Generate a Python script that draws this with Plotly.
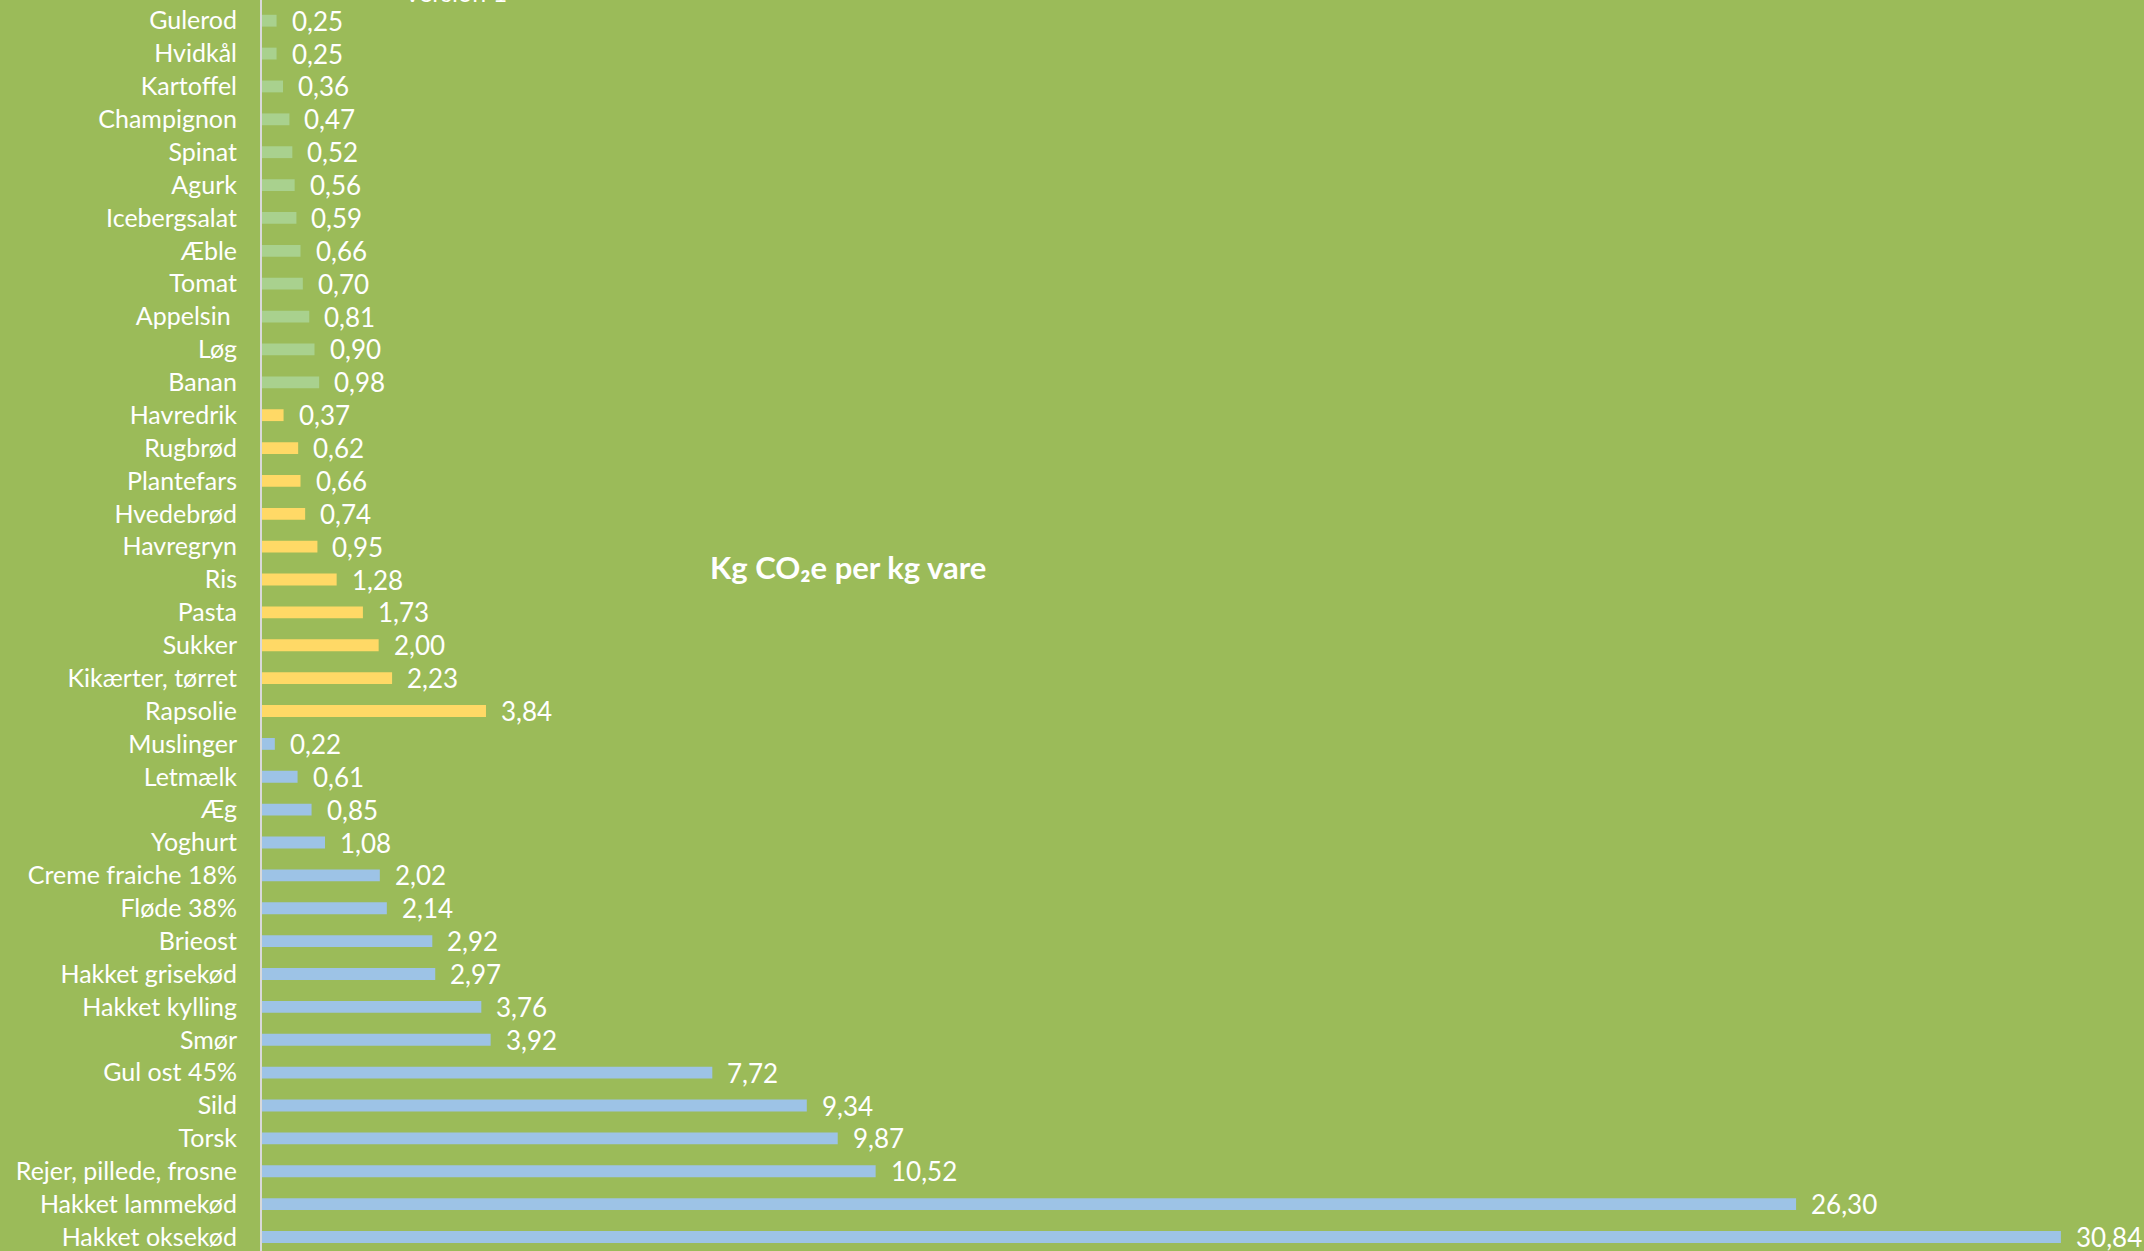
import plotly.graph_objects as go

green_items = ["Gulerod", "Hvidkål", "Kartoffel", "Champignon", "Spinat", "Agurk",
               "Icebergsalat", "Æble", "Tomat", "Appelsin ", "Løg", "Banan"]
green_vals = [0.25, 0.25, 0.36, 0.47, 0.52, 0.56, 0.59, 0.66, 0.70, 0.81, 0.90, 0.98]

yellow_items = ["Havredrik", "Rugbrød", "Plantefars", "Hvedebrød", "Havregryn", "Ris",
                "Pasta", "Sukker", "Kikærter, tørret", "Rapsolie"]
yellow_vals = [0.37, 0.62, 0.66, 0.74, 0.95, 1.28, 1.73, 2.00, 2.23, 3.84]

blue_items = ["Muslinger", "Letmælk", "Æg", "Yoghurt", "Creme fraiche 18%", "Fløde 38%",
              "Brieost", "Hakket grisekød", "Hakket kylling", "Smør", "Gul ost 45%", "Sild",
              "Torsk", "Rejer, pillede, frosne", "Hakket lammekød", "Hakket oksekød"]
blue_vals = [0.22, 0.61, 0.85, 1.08, 2.02, 2.14, 2.92, 2.97, 3.76, 3.92, 7.72, 9.34,
             9.87, 10.52, 26.30, 30.84]

title_text = "Kg CO₂e per kg vare"
version_text = "Version 1"

BG = "#9BBB59"
FONT = "Lato"

groups = [
    (green_items, green_vals, "#A9D18E"),
    (yellow_items, yellow_vals, "#FFD966"),
    (blue_items, blue_vals, "#9DC3E6"),
]

all_items = green_items + yellow_items + blue_items

fig = go.Figure()
annotations = []
for items, vals, col in groups:
    fig.add_trace(go.Bar(
        x=vals, y=items, orientation="h",
        marker=dict(color=col, line=dict(width=0)),
        width=0.36, showlegend=False, hoverinfo="x+y",
    ))
    for it, v in zip(items, vals):
        annotations.append(dict(
            x=v, y=it, xref="x", yref="y",
            text=f"{v:.2f}".replace(".", ","),
            showarrow=False, xanchor="left", yanchor="middle",
            xshift=13, yshift=0,
            font=dict(family=FONT, size=26, color="white"),
        ))

annotations.append(dict(
    x=(848 - 262) / (2144 - 262), y=1 - 567 / 1251, xref="paper", yref="paper",
    text=f"<b>{title_text}</b>", showarrow=False, xanchor="center", yanchor="middle",
    font=dict(family=FONT, size=31, color="white"),
))
annotations.append(dict(
    x=(455 - 262) / (2144 - 262), y=1, xref="paper", yref="paper",
    text=version_text, showarrow=False, xanchor="center", yanchor="bottom",
    yshift=-9,
    font=dict(family=FONT, size=25, color="white"),
))

n = len(all_items)
spacing = (1237 - 20.7) / (n - 1)
top = -20.7 / spacing
bottom = (n - 1) + (1251 - 1237) / spacing

fig.update_layout(
    width=2144, height=1251,
    margin=dict(l=262, r=0, t=0, b=0),
    paper_bgcolor=BG, plot_bgcolor=BG,
    barmode="overlay",
    annotations=annotations,
    font=dict(family=FONT, color="white"),
    xaxis=dict(range=[0, (2144 - 262) / 58.33], visible=False, showgrid=False, zeroline=False),
    yaxis=dict(
        type="category", categoryorder="array", categoryarray=all_items,
        range=[bottom, top],
        showline=True, linecolor="#D9D9D9", linewidth=2,
        showgrid=False, zeroline=False, ticks="",
        ticklabelstandoff=18,
        tickfont=dict(family=FONT, size=25, color="white"),
    ),
)

fig.write_html(
    "out.html",
    config={"displayModeBar": False},
    post_script="document.body.style.margin='0';document.body.style.overflow='hidden';",
)
